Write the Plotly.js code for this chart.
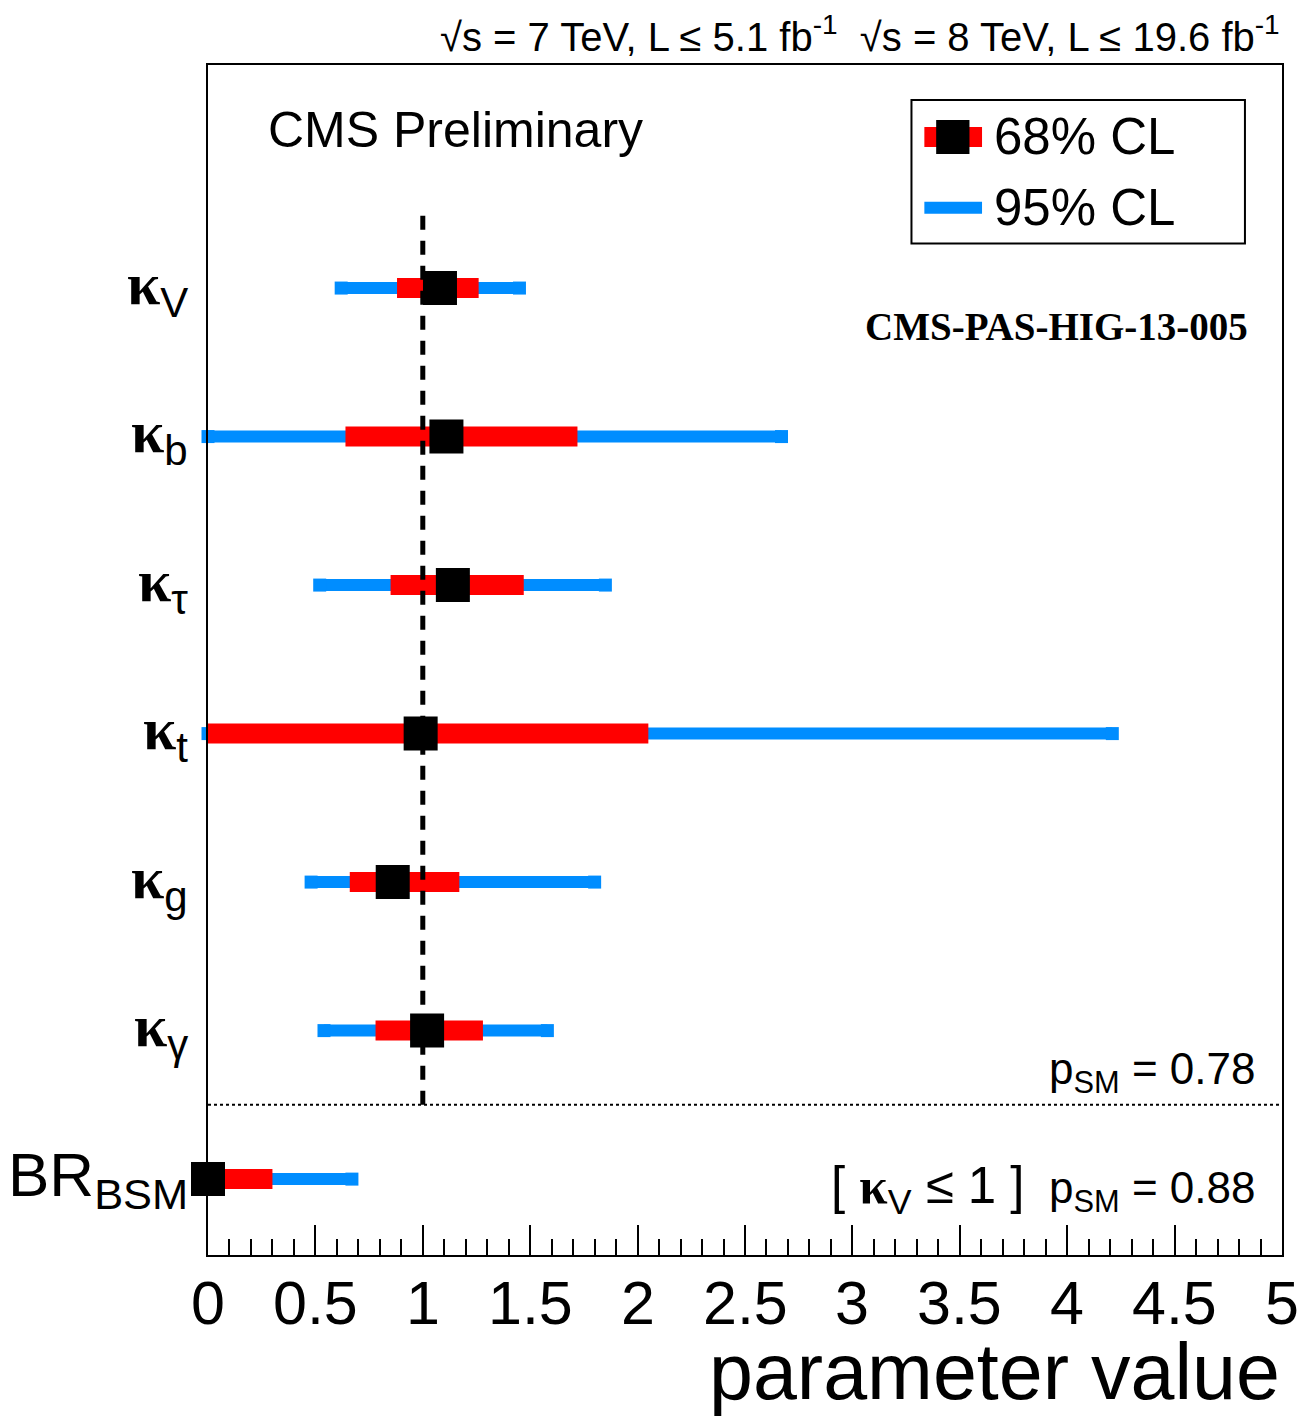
<!DOCTYPE html>
<html>
<head>
<meta charset="utf-8">
<script src="https://cdn.plot.ly/plotly-3.0.1.min.js"></script>
<style>html,body{margin:0;padding:0;background:#fff;}#chart{width:1306px;height:1418px;}</style>
</head>
<body>
<div id="chart"></div>
<script>
// ---- data ----
var paramMain = ["κ", "κ", "κ", "κ", "κ", "κ", "BR"];
var paramSub  = ["V", "b", "τ", "t", "g", "γ", "BSM"];
var rowPos    = [6, 5, 4, 3, 2, 1, 0];
var best  = [1.08, 1.11, 1.14, 0.99, 0.86, 1.02, 0.00];
var lo68  = [0.88, 0.64, 0.85, 0.00, 0.66, 0.78, 0.00];
var hi68  = [1.26, 1.72, 1.47, 2.05, 1.17, 1.28, 0.30];
var lo95  = [0.62, 0.00, 0.52, 0.00, 0.48, 0.54, 0.00];
var hi95  = [1.45, 2.67, 1.85, 4.21, 1.80, 1.58, 0.67];
var tickVals = [0, 0.5, 1, 1.5, 2, 2.5, 3, 3.5, 4, 4.5, 5];
var tickText = ["0", "0.5", "1", "1.5", "2", "2.5", "3", "3.5", "4", "4.5", "5"];
var pValues = ["0.78", "0.88"];

var BLUE = "rgb(0,141,255)";
var RED = "rgb(255,0,0)";
var SANS = "Liberation Sans, Arial, sans-serif";
var SERIF = "Liberation Serif, Times New Roman, serif";

var traces = [];
for (var i = 0; i < best.length; i++) {
  traces.push({type: "scatter", mode: "lines+markers", x: [lo95[i], hi95[i]], y: [rowPos[i], rowPos[i]],
    line: {color: BLUE, width: 12}, marker: {symbol: "square", size: 13, color: BLUE, line: {width: 0}},
    showlegend: false, hoverinfo: "skip", cliponaxis: false});
}
for (var i = 0; i < best.length; i++) {
  traces.push({type: "scatter", mode: "lines", x: [lo68[i], hi68[i]], y: [rowPos[i], rowPos[i]],
    line: {color: RED, width: 20}, showlegend: false, hoverinfo: "skip", cliponaxis: false});
}
traces.push({type: "scatter", mode: "markers", x: best, y: rowPos,
  marker: {symbol: "square", size: 34, color: "black", line: {width: 0}},
  showlegend: false, cliponaxis: false});

var K = '<b><span style="font-family:' + SERIF + '">κ</span></b>';
var annotations = [];
for (var i = 0; i < best.length; i++) {
  var isK = paramMain[i] === "κ";
  var txt = isK ? K + '<sub>' + paramSub[i] + '</sub>'
                : paramMain[i] + '<sub>' + paramSub[i] + '</sub>';
  annotations.push({xref: "paper", yref: "y", x: -0.017, y: rowPos[i], xanchor: "right", yanchor: "middle",
    text: txt, showarrow: false, font: {family: SANS, size: isK ? 60 : 62, color: "black"}});
}
// x tick labels placed from the tick arrays
for (var j = 0; j < tickVals.length; j++) {
  annotations.push({xref: "x", yref: "paper", x: tickVals[j], y: -0.0405, xanchor: "center", yanchor: "middle",
    text: tickText[j], showarrow: false, font: {family: SANS, size: 61, color: "black"}});
}
annotations.push(
  {xref: "paper", yref: "paper", x: 1.0, y: 1.003, xanchor: "right", yanchor: "bottom",
   text: "√s = 7 TeV, L ≤ 5.1 fb<sup>-1</sup>  √s = 8 TeV, L ≤ 19.6 fb<sup>-1</sup>",
   showarrow: false, font: {family: SANS, size: 40, color: "black"}},
  {xref: "paper", yref: "paper", x: 0.054, y: 0.945, xanchor: "left", yanchor: "middle",
   text: "CMS Preliminary", showarrow: false, font: {family: SANS, size: 50, color: "black"}},
  {xref: "paper", yref: "paper", x: 0.970, y: 0.780, xanchor: "right", yanchor: "middle",
   text: "<b>CMS-PAS-HIG-13-005</b>", showarrow: false, font: {family: SERIF, size: 39, color: "black"}},
  {xref: "paper", yref: "paper", x: 0.730, y: 0.9395, xanchor: "left", yanchor: "middle",
   text: "68% CL", showarrow: false, font: {family: SANS, size: 51, color: "black"}},
  {xref: "paper", yref: "paper", x: 0.730, y: 0.880, xanchor: "left", yanchor: "middle",
   text: "95% CL", showarrow: false, font: {family: SANS, size: 51, color: "black"}},
  {xref: "paper", yref: "y", x: 0.977, y: 0.72, xanchor: "right", yanchor: "middle",
   text: "p<sub>SM</sub> = " + pValues[0], showarrow: false, font: {family: SANS, size: 44, color: "black"}},
  {xref: "paper", yref: "y", x: 0.977, y: -0.07, xanchor: "right", yanchor: "middle",
   text: "<span style=\"font-size:51px\">[ " + K + "<sub>V</sub> ≤ 1 ]</span>  p<sub>SM</sub> = " + pValues[1],
   showarrow: false, font: {family: SANS, size: 44, color: "black"}},
  {xref: "paper", yref: "paper", x: 1.0, y: -0.0975, xanchor: "right", yanchor: "middle",
   text: "parameter value", showarrow: false, font: {family: SANS, size: 79, color: "black"}}
);

var shapes = [
  {type: "line", xref: "x", yref: "y", x0: 1, x1: 1, y0: 0.5, y1: 6.51,
   line: {color: "black", width: 5, dash: "14px,11px"}},
  {type: "line", xref: "paper", yref: "y", x0: 0, x1: 1, y0: 0.5, y1: 0.5,
   line: {color: "black", width: 2, dash: "dot"}},
  // legend box
  {type: "rect", xref: "paper", yref: "paper", x0: 0.655, x1: 0.9655, y0: 0.850, y1: 0.9706,
   line: {color: "black", width: 2}, fillcolor: "white", layer: "below"},
  {type: "rect", xref: "paper", yref: "paper", x0: 0.667, x1: 0.7207, y0: 0.9395 - 0.0084, y1: 0.9395 + 0.0084,
   line: {width: 0}, fillcolor: RED},
  {type: "rect", xref: "paper", yref: "paper", x0: 0.678, x1: 0.709, y0: 0.9395 - 0.0143, y1: 0.9395 + 0.0143,
   line: {width: 0}, fillcolor: "black"},
  {type: "rect", xref: "paper", yref: "paper", x0: 0.667, x1: 0.7207, y0: 0.880 - 0.0050, y1: 0.880 + 0.0050,
   line: {width: 0}, fillcolor: BLUE}
];

var layout = {
  width: 1306, height: 1418,
  margin: {l: 208, r: 24, t: 65, b: 163},
  paper_bgcolor: "white", plot_bgcolor: "white",
  showlegend: false,
  xaxis: {
    range: [0, 5], tickmode: "array", tickvals: tickVals, ticktext: tickText, showticklabels: false,
    ticks: "inside", ticklen: 30, tickwidth: 2, tickcolor: "black",
    minor: {dtick: 0.1, tick0: 0, ticks: "inside", ticklen: 16, tickwidth: 2, tickcolor: "black", showgrid: false},
    showline: true, linecolor: "black", linewidth: 2, mirror: true,
    showgrid: false, zeroline: false
  },
  yaxis: {
    range: [-0.511, 7.502], showticklabels: false, ticks: "",
    showline: true, linecolor: "black", linewidth: 2, mirror: true,
    showgrid: false, zeroline: false
  },
  annotations: annotations,
  shapes: shapes
};

Plotly.newPlot("chart", traces, layout, {displayModeBar: false, staticPlot: true});
</script>
</body>
</html>
